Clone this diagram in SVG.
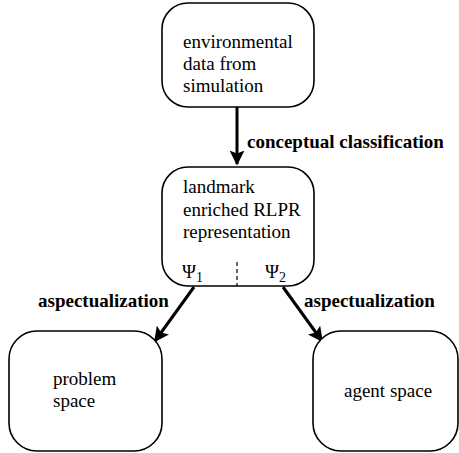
<svg xmlns="http://www.w3.org/2000/svg" width="459" height="453" viewBox="0 0 459 453">
<defs>
<marker id="ah" markerWidth="5" markerHeight="5" refX="4.5" refY="2.5" orient="auto" markerUnits="strokeWidth">
<path d="M0,0 L5,2.5 L0,5 L1,2.5 Z" fill="#000"/>
</marker>
</defs>
<style>
.box{fill:#fff;stroke:#000;stroke-width:1.6}
.t{font-family:'Liberation Serif','DejaVu Serif',serif;font-size:19px;fill:#000}
.b{font-family:'Liberation Serif','DejaVu Serif',serif;font-size:19px;font-weight:bold;fill:#000}
.c{stroke:#000;stroke-width:3;fill:none;marker-end:url(#ah)}
</style>
<rect width="459" height="453" fill="#fff"/>
<g id="connectors">
<line class="c" x1="237" y1="107" x2="237" y2="164"/>
<line class="c" x1="194" y1="287" x2="155" y2="341"/>
<line class="c" x1="283" y1="287" x2="322" y2="341"/>
<text class="b" x="247" y="148" font-family="Liberation Serif">conceptual classification</text>
<text class="b" x="38" y="307" font-family="Liberation Serif">aspectualization</text>
<text class="b" x="304" y="307" font-family="Liberation Serif">aspectualization</text>
</g>
<g id="env">
<rect class="box" x="162" y="3" width="152" height="104" rx="26"/>
<text class="t" x="183" y="48">environmental</text>
<text class="t" x="183" y="70">data from</text>
<text class="t" x="183" y="92">simulation</text>
</g>
<g id="rlpr">
<rect class="box" x="162" y="167" width="152" height="119" rx="26"/>
<text class="t" x="183" y="193">landmark</text>
<text class="t" x="183" y="216">enriched RLPR</text>
<text class="t" x="183" y="238">representation</text>
<text class="t" x="182" y="278">Ψ<tspan font-size="14" dy="4">1</tspan></text>
<text class="t" x="265" y="278">Ψ<tspan font-size="14" dy="4">2</tspan></text>
<line x1="237" y1="262" x2="237" y2="286" stroke="#000" stroke-width="1.2" stroke-dasharray="4,3"/>
</g>
<g id="problem">
<rect class="box" x="9" y="331" width="153" height="120" rx="28"/>
<text class="t" x="53" y="385">problem</text>
<text class="t" x="53" y="407">space</text>
</g>
<g id="agent">
<rect class="box" x="313" y="331" width="145" height="120" rx="28"/>
<text class="t" x="344" y="397">agent space</text>
</g>
</svg>
